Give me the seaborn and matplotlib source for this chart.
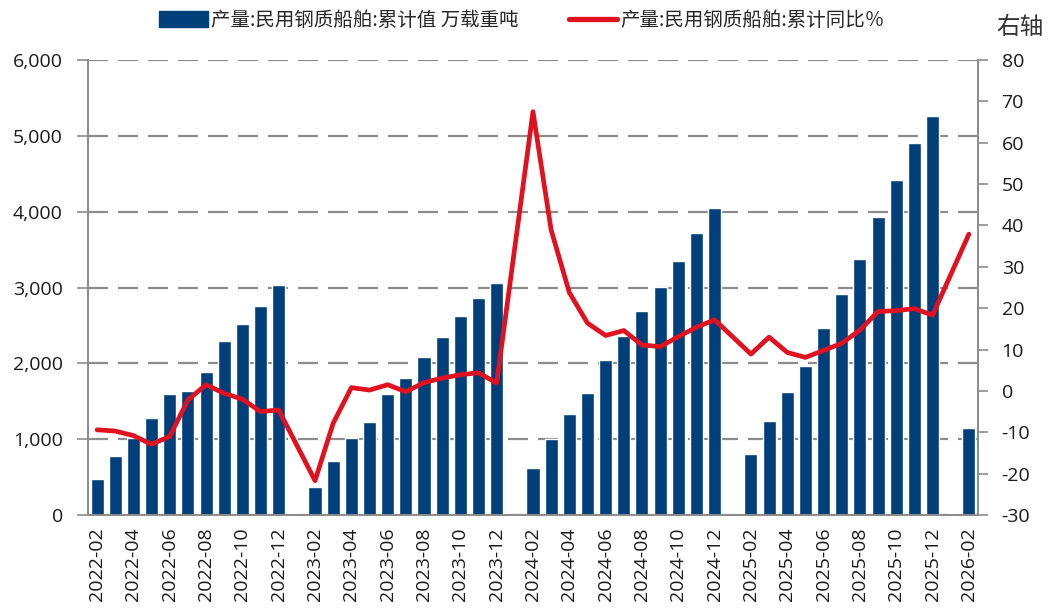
import numpy as np
import pandas as pd
import matplotlib
matplotlib.use("Agg")
import matplotlib.pyplot as plt
import matplotlib.ticker as mticker
from matplotlib.patches import Patch
from matplotlib.lines import Line2D
import seaborn as sns

# --- data ---
months = [str(p) for p in pd.period_range("2022-02", "2026-02", freq="M")]

# cumulative output, 10k DWT (January not published -> None)
output_cum = [
    480, 780, 1010, 1275, 1590, 1640, 1880, 2295, 2520, 2750, 3030,   # 2022-02..12
    None, 365, 710, 1020, 1230, 1600, 1810, 2085, 2350, 2620, 2860, 3055,  # 2023
    None, 620, 1000, 1330, 1615, 2050, 2360, 2690, 3005, 3350, 3725, 4045,  # 2024
    None, 805, 1240, 1620, 1965, 2460, 2915, 3380, 3935, 4420, 4905, 5265,  # 2025
    None, 1145,                                                            # 2026
]

# cumulative YoY, %
yoy_cum = [
    -9.4, -9.7, -10.8, -12.9, -11.0, -2.2, 1.5, -0.6, -2.0, -5.0, -4.6,
    None, -21.7, -7.8, 0.8, 0.2, 1.5, -0.2, 2.0, 3.1, 3.9, 4.4, 1.9,
    None, 67.5, 38.9, 23.8, 16.4, 13.4, 14.6, 11.1, 10.7, 13.1, 15.4, 17.2,
    None, 8.9, 13.0, 9.3, 8.1, 9.8, 11.5, 14.7, 19.2, 19.4, 19.9, 18.3,
    None, 37.9,
]

BAR_LABEL = "产量:民用钢质船舶:累计值 万载重吨"
LINE_LABEL = "产量:民用钢质船舶:累计同比％"
BLUE = "#013f7b"
RED = "#e2111f"
GREY = "#8c8c8c"
TICK_FONT = ["Open Sans", "DejaVu Sans"]

sns.set_theme(style="white")
plt.rcParams["font.family"] = ["Noto Sans CJK SC", "DejaVu Sans"]
plt.rcParams["axes.unicode_minus"] = False

df = pd.DataFrame({"month": months,
                   "pos": np.arange(len(months)),
                   "output": pd.to_numeric(pd.Series(output_cum), errors="coerce"),
                   "yoy": pd.to_numeric(pd.Series(yoy_cum), errors="coerce")})

fig = plt.figure(figsize=(10.5, 6.14), dpi=100)
ax = fig.add_axes([0.0838, 0.1612, 0.8476, 0.7411])

sns.barplot(data=df.dropna(subset=["output"]), x="month", y="output",
            order=months, color=BLUE, saturation=1, width=0.72, ax=ax)

ax2 = ax.twinx()
sns.lineplot(data=df.dropna(subset=["yoy"]), x="pos", y="yoy",
             color=RED, lw=3.4, ax=ax2, sort=True)

# axes limits / ticks
ax.set_xlim(-0.5, len(months) - 0.5)
ax.set_ylim(0, 6000)
ax.set_yticks(range(0, 6001, 1000))
ax.yaxis.set_major_formatter(mticker.FuncFormatter(lambda v, p: f"{int(v):,}"))
ax2.set_ylim(-30, 80)
ax2.set_yticks(range(-30, 81, 10))

lab_pos = [i for i, m in enumerate(months) if int(m[-2:]) % 2 == 0]
ax.set_xticks(lab_pos)
ax.set_xticklabels([months[i] for i in lab_pos], rotation=90)
ax.set_xticks([i - 0.5 for i in lab_pos], minor=True)
ax.tick_params(axis="x", which="major", length=0, pad=9)
ax.tick_params(axis="x", which="minor", length=6, color=GREY, width=1.2)
ax.tick_params(axis="y", length=8, color=GREY, width=1.2, pad=10)
ax2.tick_params(axis="y", direction="out", length=7, color=GREY, width=1.2,
                pad=10, labelcolor="#1a1a1a")

for lab in ax.get_xticklabels() + ax.get_yticklabels() + ax2.get_yticklabels():
    lab.set_fontfamily(TICK_FONT)
    lab.set_fontsize(14)
    lab.set_color("#1a1a1a")

ax.set_xlabel("")
ax.set_ylabel("")
ax2.set_xlabel("")
ax2.set_ylabel("")

# grid
ax.yaxis.grid(True, linestyle=(0, (9, 4.5)), color=GREY, lw=1.6)
ax.set_axisbelow(True)
ax2.grid(False)

for a in (ax, ax2):
    for s in a.spines.values():
        s.set_color(GREY)
        s.set_linewidth(1.3)
    a.spines["top"].set_visible(False)

# legend
handles = [Patch(facecolor=BLUE, edgecolor=BLUE),
           Line2D([0], [0], color=RED, lw=3.8)]
fig.legend(handles, [BAR_LABEL, LINE_LABEL], loc="upper center",
           bbox_to_anchor=(0.497, 1.012), ncol=2, frameon=False,
           fontsize=14, handlelength=2.5, handleheight=0.9,
           columnspacing=2.6, handletextpad=0.15)

fig.text(0.949, 0.956, "右轴", fontsize=17, color="#333333", va="center")

fig.savefig("out.png", dpi=100)
